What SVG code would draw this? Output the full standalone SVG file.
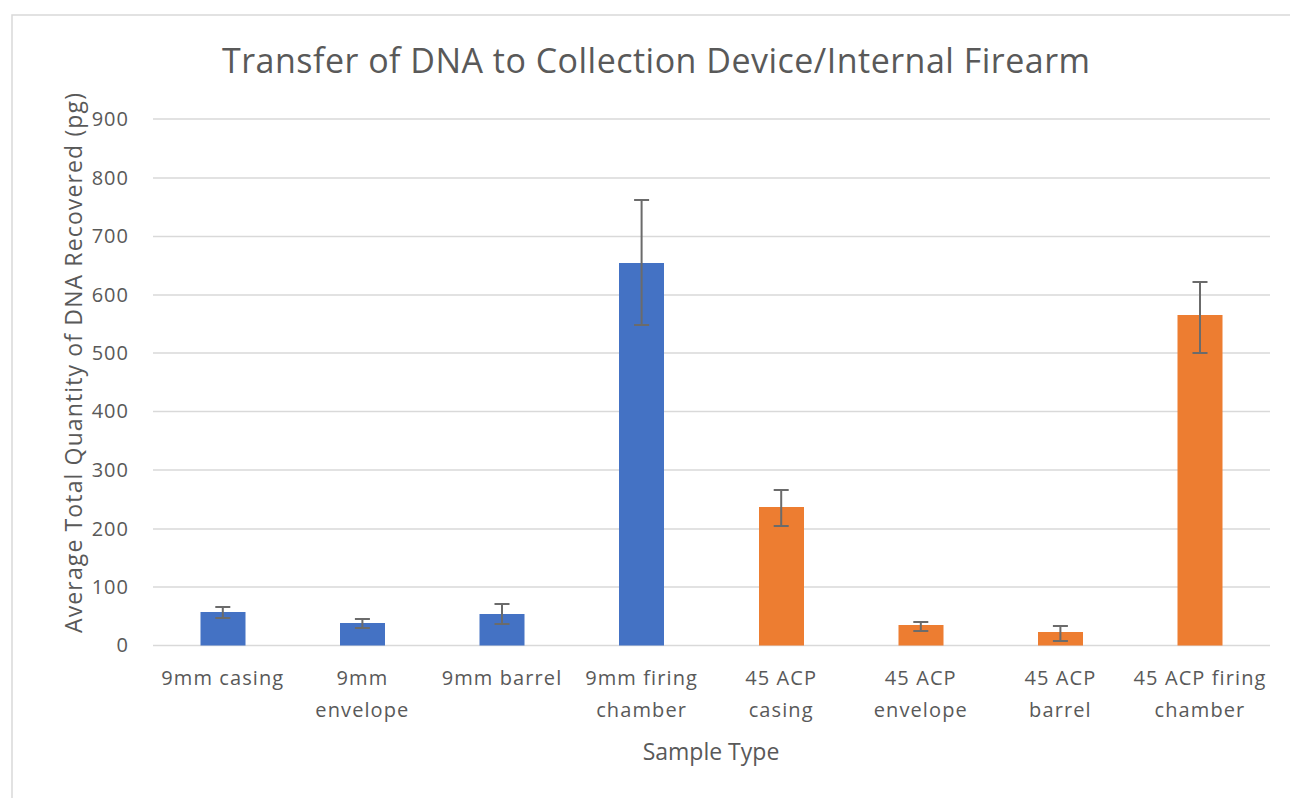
<svg xmlns="http://www.w3.org/2000/svg" width="1290" height="798" viewBox="0 0 1290 798">
  <style>
    .txt { font-family: "Open Sans", "Liberation Sans", sans-serif; fill: #595959; }
    .title { font-size: 34px; }
    .tick { font-size: 20px; letter-spacing: 1px; text-anchor: end; }
    .cat { font-size: 20px; letter-spacing: 1.1px; text-anchor: middle; }
    .axis { font-size: 23px; text-anchor: middle; }
    .grid { stroke: #d9d9d9; stroke-width: 1.5; }
    .blue { fill: #4472c4; }
    .orange { fill: #ed7d31; }
    .err { stroke: #6b6b6b; stroke-width: 2; fill: none; }
  </style>

  <rect x="0" y="0" width="1290" height="798" fill="#ffffff"/>
  <!-- chart frame -->
  <rect x="12" y="15" width="1300" height="800" fill="none" stroke="#d9d9d9" stroke-width="1.5"/>

  <!-- title -->
  <text id="chart-title" class="txt title" x="656" y="73" text-anchor="middle" textLength="868" lengthAdjust="spacing">Transfer of DNA to Collection Device/Internal Firearm</text>

  <!-- horizontal gridlines and value axis labels -->
  <g id="value-axis">
    <line class="grid" x1="153" y1="119" x2="1270" y2="119"/>
    <line class="grid" x1="153" y1="178" x2="1270" y2="178"/>
    <line class="grid" x1="153" y1="236.5" x2="1270" y2="236.5"/>
    <line class="grid" x1="153" y1="295" x2="1270" y2="295"/>
    <line class="grid" x1="153" y1="353" x2="1270" y2="353"/>
    <line class="grid" x1="153" y1="411.5" x2="1270" y2="411.5"/>
    <line class="grid" x1="153" y1="470" x2="1270" y2="470"/>
    <line class="grid" x1="153" y1="529" x2="1270" y2="529"/>
    <line class="grid" x1="153" y1="587" x2="1270" y2="587"/>
    <line class="grid" x1="153" y1="645.5" x2="1270" y2="645.5"/>
    <text class="txt tick" x="129" y="126">900</text>
    <text class="txt tick" x="129" y="185">800</text>
    <text class="txt tick" x="129" y="243">700</text>
    <text class="txt tick" x="129" y="302">600</text>
    <text class="txt tick" x="129" y="360">500</text>
    <text class="txt tick" x="129" y="418">400</text>
    <text class="txt tick" x="129" y="477">300</text>
    <text class="txt tick" x="129" y="536">200</text>
    <text class="txt tick" x="129" y="594">100</text>
    <text class="txt tick" x="129" y="652">0</text>
  </g>

  <text id="y-title" class="txt axis" transform="translate(82,363) rotate(-90)" textLength="540" lengthAdjust="spacing">Average Total Quantity of DNA Recovered (pg)</text>

  <!-- bars with error bars -->
  <g id="bar-9mm-casing">
    <rect class="blue" x="200.5" y="612" width="45" height="33.5"/>
    <path class="err" d="M222.8 607V618M215.3 607H230.3M215.3 618H230.3"/>
  </g>
  <g id="bar-9mm-envelope">
    <rect class="blue" x="340" y="623" width="45" height="22.5"/>
    <path class="err" d="M362.4 619V628M354.9 619H369.9M354.9 628H369.9"/>
  </g>
  <g id="bar-9mm-barrel">
    <rect class="blue" x="479.5" y="614" width="45" height="31.5"/>
    <path class="err" d="M502 604V624M494.5 604H509.5M494.5 624H509.5"/>
  </g>
  <g id="bar-9mm-firing-chamber">
    <rect class="blue" x="619" y="263" width="45" height="382.5"/>
    <path class="err" d="M641.6 200V325M634.1 200H649.1M634.1 325H649.1"/>
  </g>
  <g id="bar-45-casing">
    <rect class="orange" x="759" y="507" width="45" height="138.5"/>
    <path class="err" d="M781.2 490V526M773.7 490H788.7M773.7 526H788.7"/>
  </g>
  <g id="bar-45-envelope">
    <rect class="orange" x="898.5" y="625" width="45" height="20.5"/>
    <path class="err" d="M920.8 622V631M913.3 622H928.3M913.3 631H928.3"/>
  </g>
  <g id="bar-45-barrel">
    <rect class="orange" x="1038" y="632" width="45" height="13.5"/>
    <path class="err" d="M1060.4 626V641M1052.9 626H1067.9M1052.9 641H1067.9"/>
  </g>
  <g id="bar-45-firing-chamber">
    <rect class="orange" x="1177.5" y="315" width="45" height="330.5"/>
    <path class="err" d="M1200 282V353M1192.5 282H1207.5M1192.5 353H1207.5"/>
  </g>

  <!-- category labels -->
  <g id="category-axis">
    <text class="txt cat" x="222.8" y="685">9mm casing</text>
    <text class="txt cat" x="362.4" y="685">9mm</text>
    <text class="txt cat" x="362.4" y="717">envelope</text>
    <text class="txt cat" x="502" y="685">9mm barrel</text>
    <text class="txt cat" x="641.6" y="685">9mm firing</text>
    <text class="txt cat" x="641.6" y="717">chamber</text>
    <text class="txt cat" x="781.2" y="685">45 ACP</text>
    <text class="txt cat" x="781.2" y="717">casing</text>
    <text class="txt cat" x="920.8" y="685">45 ACP</text>
    <text class="txt cat" x="920.8" y="717">envelope</text>
    <text class="txt cat" x="1060.4" y="685">45 ACP</text>
    <text class="txt cat" x="1060.4" y="717">barrel</text>
    <text class="txt cat" x="1200" y="685">45 ACP firing</text>
    <text class="txt cat" x="1200" y="717">chamber</text>
  </g>

  <text id="x-title" class="txt axis" x="711" y="760">Sample Type</text>
</svg>
